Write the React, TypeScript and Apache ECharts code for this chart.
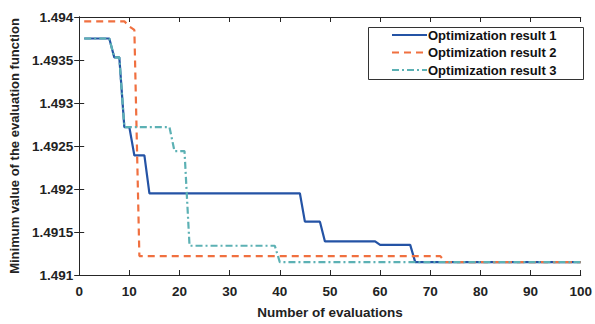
import React, { useEffect, useRef } from "react";
import * as echarts from "echarts";

const seriesNames = ["Optimization result 1", "Optimization result 2", "Optimization result 3"];

const evals1 = [1, 6, 7, 8, 9, 10, 11, 13, 14, 44, 45, 48, 49, 59, 60, 66, 67, 100];
const values1 = [1.49375, 1.49375, 1.49353, 1.49353, 1.49272, 1.49272, 1.49239, 1.49239, 1.49195, 1.49195, 1.49162, 1.49162, 1.49139, 1.49139, 1.49135, 1.49135, 1.49115, 1.49115];

const evals2 = [1, 9, 10, 11, 12, 72, 73, 100];
const values2 = [1.49395, 1.49395, 1.49389, 1.49385, 1.49122, 1.49122, 1.49115, 1.49115];

const evals3 = [1, 6, 7, 8, 9, 18, 19, 21, 22, 39, 40, 100];
const values3 = [1.49375, 1.49375, 1.49353, 1.49353, 1.49272, 1.49272, 1.49244, 1.49244, 1.49134, 1.49134, 1.49115, 1.49115];

const xTicks = [0, 10, 20, 30, 40, 50, 60, 70, 80, 90, 100];
const yTickLabels = ["1.491", "1.4915", "1.492", "1.4925", "1.493", "1.4935", "1.494"];

const colors = ["#2453a5", "#f07040", "#5cb1b4"];
const FONT = "Liberation Sans, Arial, sans-serif";
const AXIS_COLOR = "#262626";

function pairs(xs: number[], ys: number[]) {
  return xs.map((x, i) => [x, ys[i]]);
}

export default function App() {
  const ref = useRef<HTMLDivElement>(null);
  useEffect(() => {
    if (!ref.current) return;
    const chart = echarts.init(ref.current, null, { renderer: "svg" });
    const axisCommon = {
      axisLine: { show: true, lineStyle: { color: AXIS_COLOR, width: 1 } },
      axisTick: { show: true, inside: true, length: 5, lineStyle: { color: AXIS_COLOR } },
      splitLine: { show: false },
    };
    const xBase = {
      type: "value" as const,
      min: xTicks[0],
      max: xTicks[xTicks.length - 1],
      interval: 10,
      ...axisCommon,
    };
    const yBase = {
      type: "value" as const,
      min: 1.491,
      max: 1.494,
      interval: 0.0005,
      ...axisCommon,
    };
    const fmtY = (v: number) => {
      const s = v.toFixed(4).replace(/0+$/, "");
      const found = yTickLabels.find((t) => t === s);
      return found ?? s;
    };
    chart.setOption({
      animation: false,
      backgroundColor: "#ffffff",
      grid: { left: 74, right: 11, top: 17, bottom: 43 },
      xAxis: [
        {
          ...xBase,
          position: "bottom",
          name: "Number of evaluations",
          nameLocation: "middle",
          nameGap: 30,
          nameTextStyle: { fontFamily: FONT, fontWeight: "bold", fontSize: 13.5, color: "#222" },
          axisLabel: { fontFamily: FONT, fontWeight: "bold", fontSize: 13.5, color: "#222", margin: 9 },
        },
        { ...xBase, position: "top", axisLabel: { show: false } },
      ],
      yAxis: [
        {
          ...yBase,
          position: "left",
          name: "Minimum value of the evaluation function",
          nameLocation: "middle",
          nameGap: 55,
          nameTextStyle: { fontFamily: FONT, fontWeight: "bold", fontSize: 13, color: "#222" },
          axisLabel: { fontFamily: FONT, fontWeight: "bold", fontSize: 13.5, color: "#222", margin: 6, formatter: fmtY },
        },
        { ...yBase, position: "right", axisLabel: { show: false } },
      ],
      graphic: [
        {
          type: "rect",
          left: 368,
          top: 27,
          shape: { width: 215, height: 52 },
          style: { fill: "#ffffff", stroke: "#333", lineWidth: 1 },
          z: 50,
        },
      ],
      legend: {
        orient: "vertical",
        left: 391,
        top: 28,
        z: 60,
        padding: 0,
        itemWidth: 35,
        itemHeight: 14,
        itemGap: 3.5,
        itemStyle: { opacity: 0 },
        textStyle: { fontFamily: FONT, fontWeight: "bold", fontSize: 13, color: "#111", lineHeight: 14, padding: [0, 0, 0, -4] },
        data: seriesNames,
      },
      series: [
        {
          name: seriesNames[0],
          type: "line",
          data: pairs(evals1, values1),
          showSymbol: false,
          symbol: "none",
          color: colors[0],
          lineStyle: { color: colors[0], width: 2.2, type: "solid" },
        },
        {
          name: seriesNames[1],
          type: "line",
          data: pairs(evals2, values2),
          showSymbol: false,
          symbol: "none",
          color: colors[1],
          lineStyle: { color: colors[1], width: 2.2, type: [7, 5] },
        },
        {
          name: seriesNames[2],
          type: "line",
          data: pairs(evals3, values3),
          showSymbol: false,
          symbol: "none",
          color: colors[2],
          lineStyle: { color: colors[2], width: 2.2, type: [7, 3, 2, 3] },
        },
      ],
    });
    return () => chart.dispose();
  }, []);
  return <div ref={ref} style={{ width: 595, height: 324, position: "absolute", left: 0, top: 0 }} />;
}
